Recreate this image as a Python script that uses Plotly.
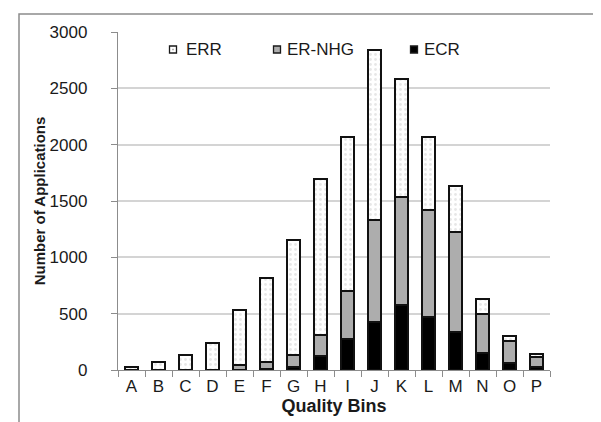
import plotly.graph_objects as go

categories = ["A", "B", "C", "D", "E", "F", "G", "H", "I", "J", "K", "L", "M", "N", "O", "P"]
ecr = [0, 0, 0, 0, 0, 5, 30, 124, 279, 426, 577, 470, 341, 148, 65, 30]
er_nhg = [0, 0, 0, 0, 42, 69, 103, 187, 426, 905, 956, 950, 881, 346, 193, 83]
err = [30, 71, 133, 243, 490, 740, 1021, 1384, 1366, 1509, 1047, 651, 415, 133, 44, 29]
series_names = ["ERR", "ER-NHG", "ECR"]
y_ticks = [0, 500, 1000, 1500, 2000, 2500, 3000]

FONT = "Liberation Sans, Arial, sans-serif"
TXT = "#1a1a1a"
W, H = 601, 422
L, R, T, B = 110, 59, 24, 60
PW, PH = W - L - R, H - T - B

def px_x(p):
    return (p - L) / PW

def px_y(p):
    return (H - B - p) / PH

edge = dict(color="#111111", width=1.9)

fig = go.Figure()
fig.add_trace(go.Bar(x=categories, y=ecr, name=series_names[2],
                     marker=dict(color="#000000", line=edge)))
fig.add_trace(go.Bar(x=categories, y=er_nhg, name=series_names[1],
                     marker=dict(color="#adadad", line=edge)))
fig.add_trace(go.Bar(x=categories, y=err, name=series_names[0],
                     marker=dict(color="#ffffff", line=edge,
                                 pattern=dict(shape=".", fgcolor="#cfcfcf",
                                              bgcolor="#ffffff", size=5, solidity=0.25))))

shapes = [
    dict(type="rect", xref="paper", yref="paper",
         x0=px_x(11), x1=px_x(640), y0=px_y(460), y1=px_y(6),
         line=dict(color="#8c8c8c", width=1.5), fillcolor="rgba(0,0,0,0)", layer="below"),
]
leg = [
    (165, 41.5, "#ffffff", 176, series_names[0]),
    (269, 41.5, "#adadad", 277, series_names[1]),
    (406, 41.5, "#000000", 414, series_names[2]),
]
annotations = []
for cx, cy, col, tx, name in leg:
    shapes.append(dict(type="rect", xref="paper", yref="paper",
                       xsizemode="pixel", ysizemode="pixel",
                       xanchor=px_x(cx), yanchor=px_y(cy),
                       x0=-3.5, x1=3.5, y0=-3.5, y1=3.5,
                       line=dict(color="#1a1a1a", width=1.3), fillcolor=col))
    annotations.append(dict(xref="paper", yref="paper", x=px_x(tx), y=px_y(cy),
                            xanchor="left", yanchor="middle", showarrow=False,
                            text=name, font=dict(family=FONT, size=17, color=TXT)))
shapes.append(dict(type="rect", xref="paper", yref="paper",
                   xsizemode="pixel", ysizemode="pixel",
                   xanchor=px_x(165), yanchor=px_y(41.5),
                   x0=-0.8, x1=0.8, y0=-0.8, y1=0.8,
                   line=dict(width=0), fillcolor="#9a9a9a"))

fig.update_layout(
    width=W, height=H,
    margin=dict(l=L, r=R, t=T, b=B, pad=0),
    paper_bgcolor="white", plot_bgcolor="white",
    barmode="stack", bargap=0.55,
    showlegend=False,
    font=dict(family=FONT, size=17, color=TXT),
    shapes=shapes, annotations=annotations,
    xaxis=dict(
        type="category", categoryorder="array", categoryarray=categories,
        showline=True, linecolor="#8c8c8c", linewidth=1.3,
        ticks="outside", tickson="boundaries", ticklen=6, tickcolor="#8c8c8c", tickwidth=1.3,
        showgrid=False, tickfont=dict(family=FONT, size=17, color=TXT),
        ticklabelstandoff=0,
        title=dict(text="<b>Quality Bins</b>", font=dict(family=FONT, size=18, color=TXT), standoff=2),
    ),
    yaxis=dict(
        range=[0, 3000], tickvals=y_ticks, ticktext=[str(v) for v in y_ticks],
        showline=True, linecolor="#8c8c8c", linewidth=1.3,
        ticks="outside", ticklen=6, tickcolor="#8c8c8c", tickwidth=1.3,
        showgrid=True, gridcolor="#d4d4d4", gridwidth=1.5,
        zeroline=False, ticklabelstandoff=20,
        tickfont=dict(family=FONT, size=17, color=TXT),
        title=dict(text="<b>Number of Applications</b>", font=dict(family=FONT, size=15, color=TXT), standoff=0),
    ),
)

fig.write_html("out.html")
